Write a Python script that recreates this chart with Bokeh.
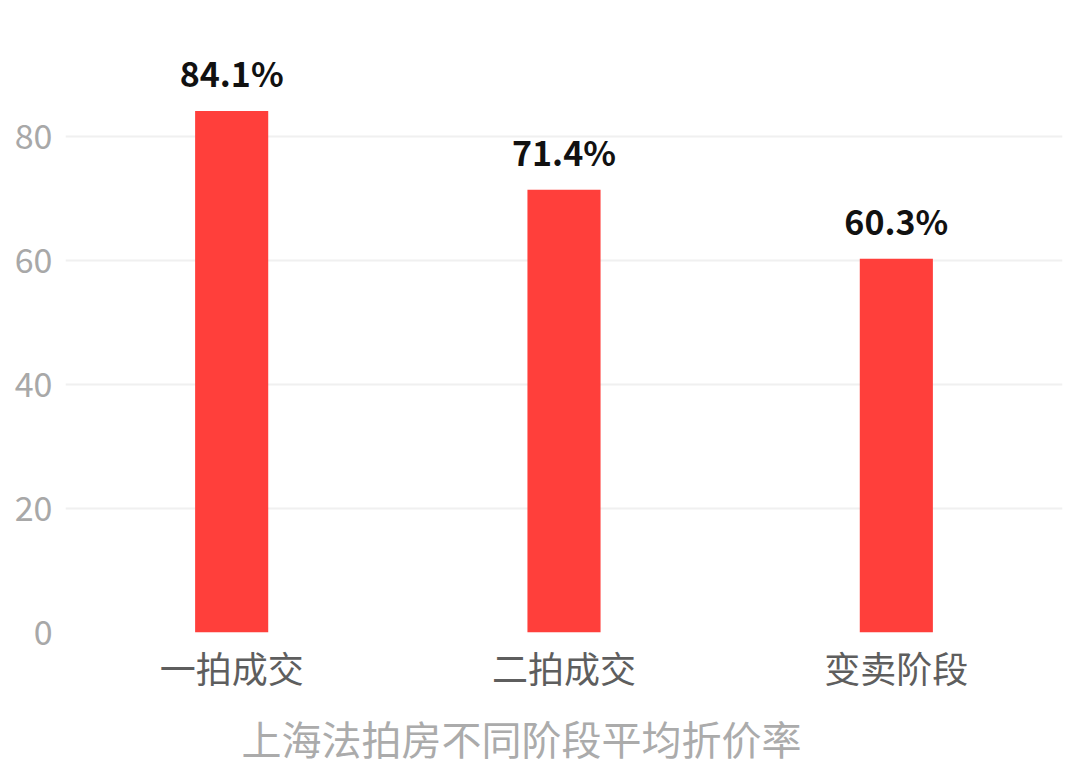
from bokeh.plotting import figure
from bokeh.models import ColumnDataSource, FactorRange, Range1d, Title, FixedTicker, LabelSet
from bokeh.core.properties import value
from bokeh.embed import file_html
from bokeh.resources import INLINE

categories = ["一拍成交", "二拍成交", "变卖阶段"]
values = [84.1, 71.4, 60.3]
labels = ["84.1%", "71.4%", "60.3%"]
y_ticks = [0, 20, 40, 60, 80]
title_text = "上海法拍房不同阶段平均折价率"

FONT = "Noto Sans CJK SC"

src = ColumnDataSource(dict(cat=categories, val=values, lab=labels))

p = figure(
    x_range=FactorRange(*categories, range_padding=0),
    y_range=Range1d(0, 95),
    frame_width=997, frame_height=589,
    output_backend="svg", toolbar_location=None,
    min_border_left=65, min_border_right=10, min_border_top=43, min_border_bottom=120,
)
p.outline_line_color = None
p.background_fill_color = "white"
p.border_fill_color = "white"

p.vbar(x="cat", top="val", width=0.22, source=src, color="#FF3F3B", line_color=None)

p.add_layout(LabelSet(x="cat", y="val", text="lab", source=src, text_align="center",
                      text_baseline="bottom", y_offset=14, text_font=value(FONT),
                      text_font_size="34px", text_font_style="bold", text_color="#111111"))

p.yaxis.ticker = FixedTicker(ticks=y_ticks)
p.yaxis.axis_line_color = None
p.yaxis.major_tick_line_color = None
p.yaxis.minor_tick_line_color = None
p.yaxis.major_label_text_font = FONT
p.yaxis.major_label_text_font_size = "34px"
p.yaxis.major_label_text_color = "#a8a8a8"
p.yaxis.major_label_standoff = 7

p.xaxis.axis_line_color = None
p.xaxis.major_tick_line_color = None
p.xaxis.minor_tick_line_color = None
p.xaxis.major_label_text_font = FONT
p.xaxis.major_label_text_font_size = "36px"
p.xaxis.major_label_text_color = "#5e5e5e"
p.xaxis.major_label_standoff = 2

p.xgrid.grid_line_color = None
p.ygrid.grid_line_color = "#f0f0f0"
p.ygrid.grid_line_width = 2

t = Title(text=title_text, align="left", offset=176, text_font=FONT,
          text_font_size="40px", text_font_style="normal", text_color="#ababab",
          standoff=22, vertical_align="bottom")
p.add_layout(t, "below")

open("out.html", "w").write(file_html(p, INLINE))
